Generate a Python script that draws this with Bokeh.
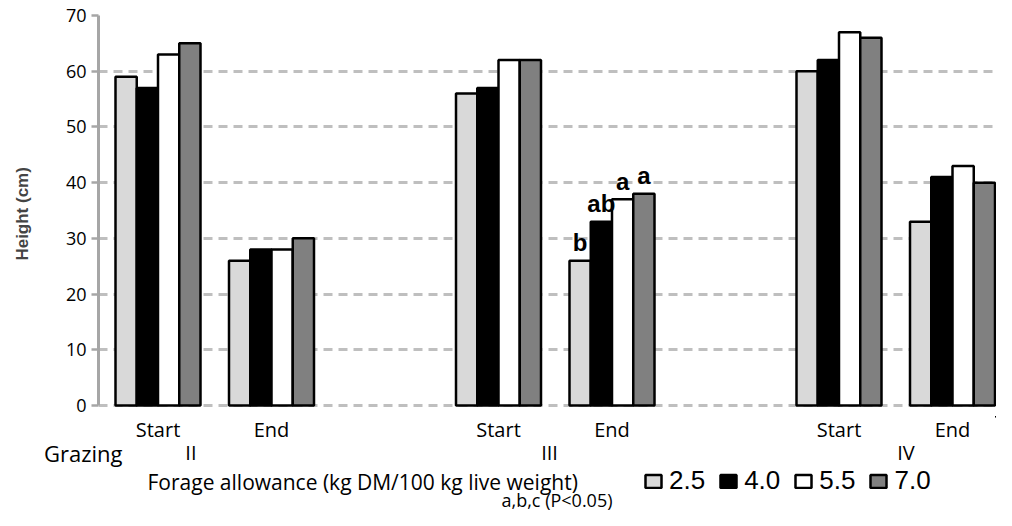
from bokeh.plotting import figure
from bokeh.layouts import column
from bokeh.models import Range1d, FixedTicker, Legend, LegendItem, ColumnDataSource
from bokeh.embed import file_html
from bokeh.resources import INLINE
from bokeh.core.properties import value

# ---------------- data ----------------
periods = ["II", "III", "IV"]
stages = ["Start", "End"]
allowances = ["2.5", "4.0", "5.5", "7.0"]
height_25 = [59, 26, 56, 26, 60, 33]
height_40 = [57, 28, 57, 33, 62, 41]
height_55 = [63, 28, 62, 37, 67, 43]
height_70 = [65, 30, 62, 38, 66, 40]
sig_period = "III"
sig_stage = "End"
sig_letters = ["b", "ab", "a", "a"]
y_ticks = [0, 10, 20, 30, 40, 50, 60, 70]
bar_colors = ["#d9d9d9", "#000000", "#ffffff", "#808080"]

series = [height_25, height_40, height_55, height_70]

# ---------------- layout (pixel positions inside the figure) ----------------
W = 996
TOTAL_H = 510
BORDER_LEFT, BORDER_TOP, BORDER_BOTTOM = 98, 15, 9
PX_PER_UNIT = 390 / 70.0
FRAME_H = 392
Y_MAX = 70
Y_MIN = Y_MAX - FRAME_H / PX_PER_UNIT
TOP_H = BORDER_TOP + FRAME_H + BORDER_BOTTOM
BOT_H = TOTAL_H - TOP_H
SLOT_PX = 113.5
SLOT0_PX = 157.5
BAR_W = (85 / 4.0) / SLOT_PX
GROUP_LABEL_SLOT = [0.29, 3.45, 6.59]
LEGEND_KEY_SHIFT = 1000  # legend-only renderers are moved far outside the strip
FONT = "Open Sans"


def px_to_slot(px):
    return (px - SLOT0_PX) / SLOT_PX


slots, slot_stage, slot_period = [], [], []
for gi, per in enumerate(periods):
    for si, st in enumerate(stages):
        slots.append(gi * 3 + si)
        slot_stage.append(st)
        slot_period.append(per)

x_range = Range1d(px_to_slot(BORDER_LEFT), px_to_slot(W))

# ---------------- chart ----------------
p = figure(width=W, height=TOP_H, output_backend="svg", toolbar_location=None,
           x_range=x_range, y_range=Range1d(Y_MIN, Y_MAX),
           x_axis_location=None, min_border_left=BORDER_LEFT, min_border_right=0,
           min_border_top=BORDER_TOP, min_border_bottom=BORDER_BOTTOM)
p.outline_line_color = None
p.xgrid.visible = False

ya = p.yaxis[0]
ya.ticker = FixedTicker(ticks=y_ticks)
ya.bounds = (0, 70)
ya.axis_line_color = "#a6a6a6"
ya.axis_line_width = 3
ya.major_tick_line_color = "#a6a6a6"
ya.major_tick_line_width = 2.5
ya.major_tick_out = 7
ya.major_tick_in = 0
ya.minor_tick_line_color = None
ya.major_label_text_font = FONT
ya.major_label_text_font_size = "18px"
ya.major_label_text_color = "#000000"
ya.major_label_standoff = 5
ya.axis_label = "Height  (cm)"
ya.axis_label_text_font = "Liberation Sans"
ya.axis_label_text_font_style = "bold"
ya.axis_label_text_font_size = "17px"
ya.axis_label_standoff = 31

p.ygrid.ticker = FixedTicker(ticks=y_ticks)
p.ygrid.grid_line_color = "#bfbfbf"
p.ygrid.grid_line_width = 3
p.ygrid.grid_line_dash = "9 6"

bar_x = []
for k, (vals, col) in enumerate(zip(series, bar_colors)):
    xs = [s + (k - 1.5) * BAR_W for s in slots]
    bar_x.append(xs)
    src = ColumnDataSource(dict(x=xs, top=vals))
    p.vbar(x="x", top="top", width=BAR_W, bottom=0, source=src,
           fill_color=col, line_color="#000000", line_width=2.5)

# significance letters above the bars of one period/stage
idx = [i for i in range(len(slots))
       if slot_period[i] == sig_period and slot_stage[i] == sig_stage][0]
sx = [slots[idx] + (k - 1.5) * BAR_W for k in range(4)]
sy = [series[k][idx] + 0.8 for k in range(4)]
p.text(x=sx, y=sy, text=sig_letters, text_align="center", text_baseline="bottom",
       text_font=value("Liberation Sans"), text_font_style="bold",
       text_font_size="24px", text_color="#000000")

# ---------------- bottom strip: category labels, legend, footnote ----------------
ROW_STAGE, ROW_PERIOD, ROW_LEGEND, ROW_NOTE = 429, 452, 481, 499

b = figure(width=W, height=BOT_H, output_backend="svg", toolbar_location=None,
           x_range=x_range, y_range=Range1d(TOTAL_H, TOP_H),
           x_axis_location=None,
           min_border_left=BORDER_LEFT, min_border_right=0,
           min_border_top=0, min_border_bottom=0)
b.outline_line_color = None
b.xgrid.visible = False
b.ygrid.visible = False

# "Grazing" row title, as the strip's own left-axis label
gy = b.yaxis[0]
gy.ticker = FixedTicker(ticks=[ROW_PERIOD])
gy.major_label_overrides = {ROW_PERIOD: "Grazing"}
gy.axis_line_color = None
gy.major_tick_line_color = None
gy.minor_tick_line_color = None
gy.major_tick_out = 0
gy.major_tick_in = 0
gy.major_label_standoff = -24
gy.major_label_text_font = FONT
gy.major_label_text_font_size = "22px"
gy.major_label_text_color = "#000000"

b.text(x=slots, y=[ROW_STAGE] * len(slots), text=slot_stage, text_align="center",
       text_baseline="middle", text_font=value(FONT), text_font_size="20px",
       text_color="#000000")
b.text(x=GROUP_LABEL_SLOT, y=[ROW_PERIOD] * len(periods), text=periods,
       text_align="center", text_baseline="middle", text_font=value(FONT),
       text_font_size="20px", text_color="#000000")
b.text(x=[px_to_slot(147)], y=[ROW_LEGEND], text=["Forage allowance (kg DM/100 kg live weight)"],
       text_align="left", text_baseline="middle", text_font=value(FONT),
       text_font_size="21px", text_color="#000000")
b.text(x=[px_to_slot(612)], y=[ROW_NOTE], text=["a,b,c (P<0.05)"],
       text_align="right", text_baseline="middle", text_font=value(FONT),
       text_font_size="18px", text_color="#000000")

# legend keys: the same bar data and styles, drawn far outside the strip's view
legend_renderers = []
for xs, vals, col in zip(bar_x, series, bar_colors):
    src = ColumnDataSource(dict(x=[x + LEGEND_KEY_SHIFT for x in xs], top=vals))
    legend_renderers.append(b.vbar(x="x", top="top", width=BAR_W, bottom=0, source=src,
                                   fill_color=col, line_color="#000000", line_width=2.5))
legend = Legend(items=[LegendItem(label=a, renderers=[r])
                       for a, r in zip(allowances, legend_renderers)],
                orientation="horizontal",
                location=(643 - BORDER_LEFT, TOTAL_H - ROW_LEGEND - 15),
                padding=0, margin=0, spacing=13, label_standoff=6,
                glyph_width=20, glyph_height=16, label_height=26,
                label_text_font="Liberation Sans", label_text_font_size="26px",
                label_text_color="#000000",
                border_line_color=None, background_fill_alpha=0)
b.add_layout(legend, "center")

layout = column(p, b, spacing=0)
open("out.html", "w").write(file_html(layout, INLINE))
